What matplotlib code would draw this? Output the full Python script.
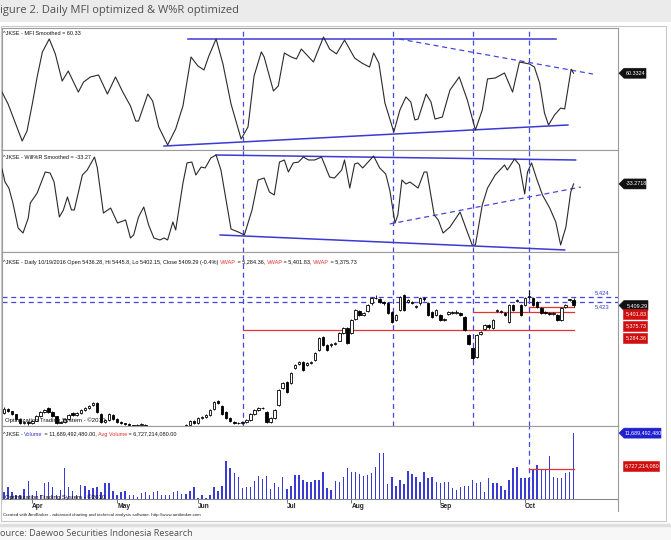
import matplotlib
matplotlib.use("Agg")
import matplotlib.pyplot as plt
from matplotlib.patches import Polygon, Rectangle
from matplotlib.lines import Line2D
from matplotlib.transforms import blended_transform_factory
import numpy as np

# ---------------- data ----------------
month_labels = ["Apr", "May", "Jun", "Jul", "Aug", "Sep", "Oct"]
month_days = [7, 28, 48, 70, 86, 108, 129]
marker_days = [59.2, 96.3, 116.1, 130]

mfi_day = [-0.5, 1.0, 2.7, 4.5, 5.7, 7.0, 8.2, 9.5, 11.2, 12.7, 14.4, 15.9, 18.4, 19.7, 21.4, 23.4,
           25.6, 27.6, 29.4, 31.3, 32.6, 33.3, 35.6, 36.8, 38.3, 40.5, 42.5, 44.3, 46.3, 48.0, 49.5,
           50.7, 52.5, 54.2, 56.2, 58.7, 60.4, 61.9, 63.7, 64.4, 66.7, 67.9, 69.4, 71.1, 72.4, 73.6,
           76.6, 79.1, 80.6, 82.3, 83.6, 84.3, 86.8, 88.6, 90.5, 91.5, 92.8, 94.3, 96.5, 98.0, 99.5,
           100.7, 101.7, 102.5, 104.5, 105.7, 106.7, 108.5, 110.4, 112.7, 114.7, 116.7, 118.4, 119.7,
           121.6, 123.9, 125.9, 127.6, 130.1, 131.3, 132.6, 133.8, 134.8, 136.3, 137.8, 138.8, 140.4, 141]
mfi_val = [48.0, 40.2, 28.4, 15.9, 22.5, 40.2, 57.9, 74.3, 82.8, 73.0, 55.2, 61.8, 48.0, 54.6, 57.9,
           59.2, 46.7, 57.9, 48.0, 38.9, 29.0, 29.0, 46.7, 42.1, 25.1, 13.3, 23.8, 38.9, 71.0, 65.1,
           62.5, 71.6, 82.8, 66.4, 40.2, 17.2, 25.1, 58.5, 74.3, 71.0, 48.7, 52.0, 73.6, 71.0, 69.7,
           76.2, 67.7, 84.1, 76.2, 73.0, 78.9, 82.1, 70.3, 67.0, 64.4, 73.6, 67.0, 40.8, 21.8, 36.2,
           44.8, 41.5, 29.7, 30.3, 46.7, 41.5, 30.3, 31.6, 49.3, 57.9, 42.8, 23.1, 36.2, 56.6, 57.2,
           60.5, 48.0, 67.7, 66.4, 64.4, 53.9, 34.3, 26.4, 33.0, 37.5, 36.9, 63.0, 60.33]
mfi_top = ([45.5, 136.6], [82.5, 82.5])
mfi_bottom = ([39.6, 139.6], [12.6, 26.4])
mfi_dashed = ([97.8, 145.8], [82.8, 59.8])

wr_day = [-0.5, 0.25, 1.2, 2.2, 3.5, 4.7, 6.0, 6.5, 8.2, 10.2, 11.4, 12.4, 13.7, 14.7, 15.7, 16.7, 17.4,
          19.4, 20.6, 22.4, 23.1, 24.6, 26.4, 28.1, 30.1, 31.3, 32.1, 33.3, 34.6, 35.8, 37.1, 38.6,
          39.6, 40.5, 41.8, 42.5, 44.3, 45.3, 46.5, 47.5, 48.8, 49.8, 51.2, 52.5, 53.7, 56.2, 58.0,
          59.5, 61.4, 62.9, 64.4, 65.7, 66.9, 68.2, 69.4, 70.4, 71.6, 72.9, 74.1, 75.4, 76.9, 78.6,
          80.6, 81.8, 83.6, 84.3, 85.6, 86.8, 87.6, 88.8, 91.5, 93.0, 94.5, 95.5, 96.8, 97.5, 98.5,
          99.5, 100.5, 102.5, 104.0, 104.7, 106.5, 107.5, 108.7, 110.4, 112.9, 114.7, 115.9, 116.7,
          118.4, 119.7, 121.6, 123.9, 124.6, 126.4, 127.6, 128.9, 129.6, 130.6, 131.8, 133.3, 135.1,
          136.6, 137.8, 139.1, 140.3, 141]
wr_val = [-18.6, -31.4, -37.3, -52.0, -76.5, -81.4, -66.7, -52.0, -42.2, -21.6, -22.5, -31.4, -65.7,
          -58.8, -46.1, -58.8, -58.8, -24.5, -19.6, -6.9, -17.6, -61.8, -56.9, -71.6, -68.6, -86.3,
          -83.3, -65.7, -55.9, -73.5, -86.3, -88.2, -86.3, -88.2, -70.6, -78.4, -32.4, -12.7, -11.8,
          -24.5, -16.7, -17.6, -7.8, -4.9, -19.6, -77.5, -80.4, -83.3, -58.8, -29.4, -27.5, -41.2,
          -44.1, -11.8, -9.8, -21.6, -12.7, -11.8, -6.9, -9.8, -9.8, -6.9, -26.5, -27.5, -19.6, -9.8,
          -37.3, -13.7, -12.7, -17.6, -5.9, -17.6, -23.5, -39.2, -71.6, -63.7, -29.4, -33.3, -31.4,
          -37.3, -21.6, -21.6, -63.7, -68.6, -81.4, -75.5, -60.8, -80.4, -93.1, -93.1, -53.9, -37.3,
          -24.5, -14.7, -19.6, -8.8, -14.7, -43.1, -21.6, -12.7, -27.5, -44.1, -56.9, -70.6, -93.1,
          -75.5, -41.2, -33.27]
wr_top = ([52.5, 141.5], [-4.9, -9.8])
wr_bottom = ([53.5, 138.8], [-83.3, -98.0])
wr_dashed = ([95.5, 142.8], [-72.5, -36.3])

price_open = [4861, 4880, 4870, 4855, 4830, 4812, 4815, 4808, 4822, 4846,
              4866, 4885, 4866, 4845, 4812, 4815, 4830, 4860, 4852, 4861,
              4876, 4887, 4900, 4912, 4856, 4815, 4825, 4852, 4830, 4815,
              4810, 4805, 4800, 4795, 4800, 4800, 4780, 4765, 4750, 4740,
              4755, 4745, 4760, 4770, 4785, 4790, 4798, 4820, 4810, 4835,
              4841, 4851, 4880, 4922, 4897, 4866, 4835, 4815, 4810, 4810,
              4815, 4825, 4856, 4876, 4885, 4866, 4815, 4835, 4902, 4990,
              5019, 5014, 5090, 5110, 5121, 5105, 5116, 5131, 5182, 5248,
              5208, 5208, 5213, 5230, 5270, 5294, 5269, 5340, 5380, 5360,
              5380, 5420, 5447, 5440, 5427, 5422, 5376, 5335, 5386, 5463,
              5427, 5427, 5401, 5420, 5447, 5422, 5376, 5360, 5360, 5335,
              5365, 5371, 5371, 5371, 5350, 5259, 5192, 5146, 5265, 5290,
              5310, 5294, 5380, 5376, 5371, 5325, 5412, 5432, 5412, 5412,
              5452, 5447, 5427, 5396, 5376, 5371, 5368, 5360, 5335, 5401,
              5437, 5436.28]
price_close = [4882, 4871, 4856, 4830, 4812, 4815, 4808, 4822, 4846, 4866,
               4878, 4866, 4845, 4812, 4815, 4830, 4850, 4850, 4861, 4876,
               4887, 4897, 4912, 4866, 4815, 4825, 4856, 4830, 4815, 4810,
               4805, 4800, 4795, 4800, 4805, 4780, 4765, 4750, 4740, 4755,
               4745, 4760, 4770, 4785, 4790, 4800, 4820, 4810, 4835, 4841,
               4851, 4876, 4917, 4912, 4856, 4835, 4820, 4810, 4812, 4815,
               4825, 4856, 4876, 4887, 4887, 4815, 4835, 4876, 4978, 5014,
               4968, 5065, 5106, 5121, 5080, 5116, 5121, 5167, 5243, 5208,
               5182, 5213, 5218, 5269, 5294, 5218, 5335, 5386, 5360, 5371,
               5412, 5447, 5450, 5427, 5420, 5371, 5325, 5360, 5452, 5386,
               5437, 5422, 5405, 5447, 5440, 5360, 5350, 5386, 5335, 5340,
               5376, 5376, 5378, 5360, 5284, 5213, 5141, 5259, 5274, 5310,
               5300, 5335, 5386, 5380, 5360, 5412, 5386, 5437, 5360, 5447,
               5460, 5412, 5401, 5371, 5371, 5368, 5371, 5335, 5396, 5412,
               5440, 5409.29]
price_high = [4892, 4886, 4874, 4858, 4834, 4822, 4820, 4826, 4850, 4872,
              4884, 4892, 4870, 4848, 4820, 4834, 4856, 4864, 4866, 4880,
              4892, 4902, 4918, 4916, 4860, 4830, 4862, 4856, 4834, 4818,
              4812, 4808, 4802, 4804, 4810, 4804, 4784, 4768, 4754, 4760,
              4758, 4764, 4774, 4790, 4796, 4804, 4826, 4824, 4840, 4846,
              4856, 4880, 4922, 4930, 4900, 4870, 4840, 4820, 4816, 4820,
              4830, 4860, 4880, 4892, 4894, 4870, 4840, 4880, 4982, 5020,
              5024, 5070, 5112, 5128, 5126, 5120, 5126, 5172, 5248, 5254,
              5212, 5218, 5224, 5272, 5300, 5298, 5340, 5392, 5386, 5376,
              5416, 5452, 5462, 5446, 5432, 5426, 5380, 5364, 5456, 5468,
              5442, 5432, 5410, 5452, 5452, 5426, 5380, 5392, 5364, 5346,
              5380, 5382, 5384, 5376, 5354, 5264, 5196, 5264, 5280, 5316,
              5314, 5340, 5392, 5386, 5376, 5416, 5416, 5442, 5418, 5452,
              5488, 5452, 5430, 5400, 5380, 5376, 5376, 5364, 5400, 5418,
              5444, 5445.8]
price_low = [4856, 4866, 4850, 4826, 4806, 4806, 4802, 4804, 4818, 4842,
             4860, 4862, 4840, 4806, 4808, 4810, 4826, 4846, 4848, 4856,
             4872, 4882, 4896, 4862, 4810, 4810, 4820, 4826, 4810, 4804,
             4800, 4796, 4790, 4790, 4796, 4776, 4760, 4744, 4734, 4736,
             4740, 4740, 4756, 4766, 4780, 4786, 4794, 4804, 4806, 4830,
             4836, 4846, 4876, 4906, 4850, 4830, 4814, 4804, 4804, 4806,
             4810, 4820, 4850, 4870, 4880, 4810, 4810, 4830, 4898, 4984,
             4962, 5010, 5084, 5104, 5074, 5100, 5110, 5126, 5176, 5202,
             5176, 5200, 5208, 5226, 5264, 5212, 5264, 5334, 5354, 5354,
             5374, 5414, 5440, 5420, 5414, 5366, 5320, 5330, 5380, 5380,
             5420, 5418, 5396, 5414, 5434, 5354, 5344, 5354, 5330, 5330,
             5360, 5366, 5366, 5354, 5278, 5208, 5130, 5140, 5258, 5284,
             5292, 5288, 5374, 5370, 5354, 5320, 5380, 5426, 5354, 5406,
             5444, 5406, 5396, 5366, 5364, 5362, 5362, 5330, 5330, 5396,
             5430, 5402.15]
resist_levels = [5452, 5427]
resist_labels = ["5,424", "5,423"]
vwap_start = [59.2, 116.1, 130]
vwap_vals = [5284.36, 5375.73, 5401.83]

volume_bn = [3.57, 4.26, 3.57, 3.15, 3.15, 3.98, 5.08, 3.15, 3.70, 3.15,
             4.81, 4.95, 4.26, 3.15, 3.84, 6.88, 4.26, 3.70, 3.15, 4.53,
             4.39, 3.84, 4.12, 4.26, 3.57, 4.81, 4.81, 3.70, 3.15, 3.57,
             3.70, 3.15, 3.15, 2.88, 3.43, 3.57, 3.15, 3.57, 3.70, 3.15,
             3.15, 3.15, 3.57, 3.70, 3.29, 3.29, 3.70, 4.26, 2.74, 3.15,
             2.74, 3.15, 4.26, 3.70, 4.39, 7.84, 6.88, 6.19, 5.64, 4.12,
             4.26, 4.26, 5.08, 5.77, 5.36, 5.77, 3.98, 4.81, 4.26, 5.64,
             3.98, 4.39, 5.91, 5.91, 5.22, 4.95, 4.95, 5.22, 5.22, 6.33,
             4.12, 3.84, 5.08, 4.95, 5.64, 6.88, 6.33, 6.33, 6.05, 5.77,
             5.91, 6.19, 7.02, 8.95, 8.95, 4.67, 5.64, 4.39, 5.22, 4.67,
             6.46, 6.05, 5.64, 4.95, 6.33, 5.50, 5.64, 4.95, 4.81, 4.95,
             4.95, 4.12, 3.84, 4.26, 4.39, 4.39, 5.22, 4.81, 4.95, 3.57,
             5.50, 4.81, 4.81, 4.39, 3.84, 5.22, 6.88, 7.02, 5.50, 5.50,
             5.50, 6.74, 7.29, 6.60, 6.74, 8.53, 5.64, 5.50, 5.50, 6.19,
             6.33, 11.68949248]
avg_volume_bn = 6.72721408
avg_volume_start = 130

# ---------------- figure ----------------
W, H = 671, 540
fig = plt.figure(figsize=(W / 100, H / 100), dpi=100)
fig.patch.set_facecolor("white")
NARROW = ["Liberation Sans Narrow", "Liberation Sans", "DejaVu Sans"]
BLUE = "#3a3ad4"
DBLUE = "#4646e0"
RED = "#e63232"
GRID = "#9c9c9c"


def fx(x):
    return x / W


def fy(y):
    return 1 - y / H


def fig_line(x0, y0, x1, y1, **kw):
    fig.add_artist(Line2D([fx(x0), fx(x1)], [fy(y0), fy(y1)], transform=fig.transFigure, **kw))


# page decorations
fig.add_artist(Rectangle((0, fy(22)), 1, 1 - fy(22), transform=fig.transFigure,
                         facecolor="#ebebeb", edgecolor="none", zorder=-5))
fig.add_artist(Rectangle((0, 0), 1, fy(525), transform=fig.transFigure,
                         facecolor="#f7f7f7", edgecolor="none", zorder=-5))
fig_line(0, 525, W, 525, color="#dedede", lw=2.5)
fig.add_artist(Rectangle((fx(1), fy(521)), fx(666) - fx(1), fy(26) - fy(521),
                         transform=fig.transFigure, facecolor="white", edgecolor="#c8c8c8",
                         lw=0.8, zorder=-4))
fig.text(fx(0), fy(11), "igure 2. Daily MFI optimized & W%R optimized", fontsize=8,
         family=["Open Sans", "DejaVu Sans"], color="#505050", va="center", ha="left")
fig.text(fx(0), fy(534), "ource: Daewoo Securities Indonesia Research", fontsize=6.6,
         family=["Open Sans", "DejaVu Sans"], color="#505050", va="center", ha="left")


def add_ax(y0, y1):
    ax = fig.add_axes([fx(2), fy(y1), fx(618) - fx(2), (y1 - y0) / H])
    ax.set_xlim(-0.5, 152)
    ax.set_xticks([])
    ax.set_yticks([])
    ax.set_facecolor("white")
    for s in ax.spines.values():
        s.set_color(GRID)
        s.set_linewidth(0.8)
    return ax


ax1 = add_ax(28, 150)
ax2 = add_ax(150, 252)
ax3 = add_ax(252, 426)
ax4 = add_ax(426, 499)

ax1.set_ylim(10, 90)
ax2.set_ylim(-100, 0)
ax3.set_ylim(4795, 5682)
ax4.set_ylim(2.6, 12.67)

vdash = dict(color=DBLUE, lw=0.9, ls=(0, (4, 3)))
for ax in (ax1, ax2, ax3):
    for d in marker_days:
        ax.axvline(d, **vdash, zorder=1)
ax4.axvline(marker_days[-1], **vdash, zorder=1)

# MFI
ax1.plot(mfi_day, mfi_val, color="#2a2a2a", lw=0.8, zorder=3)
ax1.plot(*mfi_top, color=BLUE, lw=1.1, zorder=2)
ax1.plot(*mfi_bottom, color=BLUE, lw=1.1, zorder=2)
ax1.plot(*mfi_dashed, color=DBLUE, lw=0.9, ls=(0, (4, 3)), zorder=2)

# Williams %R
ax2.plot(wr_day, wr_val, color="#2a2a2a", lw=0.8, zorder=3)
ax2.plot(*wr_top, color=BLUE, lw=1.1, zorder=2)
ax2.plot(*wr_bottom, color=BLUE, lw=1.1, zorder=2)
ax2.plot(*wr_dashed, color=DBLUE, lw=0.9, ls=(0, (4, 3)), zorder=2)

# candles
o = np.array(price_open)
c = np.array(price_close)
hi = np.array(price_high)
lo = np.array(price_low)
days = np.arange(len(o))
up = c >= o
blo = np.minimum(o, c)
bh = np.maximum(np.abs(c - o), 2.0)
ax3.vlines(days, lo, hi, color="black", lw=0.6, zorder=3)
ax3.bar(days[up], bh[up], bottom=blo[up], width=0.62, facecolor="white",
        edgecolor="black", linewidth=0.6, zorder=4)
ax3.bar(days[~up], bh[~up], bottom=blo[~up], width=0.62, facecolor="black",
        edgecolor="black", linewidth=0.6, zorder=4)
for lev in resist_levels:
    ax3.axhline(lev, color=DBLUE, lw=0.9, ls=(0, (4, 3)), zorder=1)
for d0, v in zip(vwap_start, vwap_vals):
    ax3.plot([d0, days[-1]], [v, v], color=RED, lw=0.9, zorder=2)
ax3.text(146.2, resist_levels[0] + 22, resist_labels[0], color=BLUE, fontsize=4.2,
         family=NARROW, ha="left", va="center")
ax3.text(146.2, resist_levels[1] - 22, resist_labels[1], color=BLUE, fontsize=4.2,
         family=NARROW, ha="left", va="center")

# volume
vol = np.array(volume_bn)
ax4.bar(days, vol - 2.6, bottom=2.6, width=0.36, color=BLUE, zorder=3)
ax4.plot([avg_volume_start, days[-1]], [avg_volume_bn, avg_volume_bn], color=RED, lw=0.9, zorder=4)
ax4.set_xticks(month_days)
ax4.tick_params(axis="x", length=3, width=0.7, color="#777777", labelbottom=False, direction="out")
ax4.spines["bottom"].set_color("#8a8a8a")
trans = blended_transform_factory(ax4.transData, fig.transFigure)
for d, m in zip(month_days, month_labels):
    ax4.text(d, fy(506), m, transform=trans, fontsize=4.8, fontweight="bold", family=NARROW,
             ha="left", va="center", color="#222222")
fig_line(618, 499, 618, 511, color=GRID, lw=0.8)

fig.text(fx(3), fy(515), "Created with AmiBroker - advanced charting and technical analysis software. "
         "http://www.amibroker.com", fontsize=3.2, family=NARROW, va="center", color="#222222")

# panel titles
renderer = fig.canvas.get_renderer()


def seg_text(x, y, parts, size=3.95):
    xp = x
    for s, col in parts:
        t = fig.text(fx(xp), fy(y + 1.6), s, color=col, fontsize=size, family=NARROW,
                     va="baseline", ha="left")
        xp += t.get_window_extent(renderer=renderer).width


K = "#111111"
seg_text(3, 33, [("^JKSE - MFI Smoothed = 60.33", K)])
seg_text(3, 157, [("^JKSE - Will%R Smoothed = -33.27", K)])
seg_text(3, 262, [("^JKSE - Daily 10/19/2016 Open 5436.28, Hi 5445.8, Lo 5402.15, Close 5409.29 (-0.4%) ", K),
                  ("VWAP", RED), (" = 5,284.36, ", K), ("VWAP", RED), (" = 5,401.83, ", K),
                  ("VWAP", RED), (" = 5,375.73", K)])
seg_text(3, 434, [("^JKSE - ", K), ("Volume", BLUE), (" = 11,689,492,480.00, ", K),
                  ("Avg Volume", RED), (" = 6,727,214,080.00", K)])
for yy in (420, 497):
    fig.text(fx(5), fy(yy), "Optimization Trading System - \u00a92010", fontsize=4.3,
             family=NARROW, va="center", color="#111111")


# right side value tags
def value_y(ax, v):
    return H - ax.transData.transform((0, v))[1]


def tag(y, x0, x1, text, fc, pointer=True):
    h = 5
    if pointer:
        pts = [(619, y), (x0, y - h), (x1, y - h), (x1, y + h), (x0, y + h)]
    else:
        pts = [(x0, y - h), (x1, y - h), (x1, y + h), (x0, y + h)]
    fig.add_artist(Polygon([(fx(a), fy(b)) for a, b in pts], closed=True,
                           transform=fig.transFigure, facecolor=fc, edgecolor=fc, lw=0.4))
    fig.text(fx((x0 + x1) / 2 + 1), fy(y), text, color="white", fontsize=3.9, family=NARROW,
             ha="center", va="center")


tag(value_y(ax1, mfi_val[-1]), 624, 646, "60.3324", "#111111")
tag(value_y(ax2, wr_val[-1]), 624, 646, "-33.2718", "#111111")
tag(value_y(ax3, price_close[-1]), 624, 648, "5,409.29", "#111111")
tag(314, 623, 647, "5,401.83", "#d01010", pointer=False)
tag(326, 623, 647, "5,375.73", "#d01010", pointer=False)
tag(338, 623, 647, "5,284.36", "#d01010", pointer=False)
tag(value_y(ax4, volume_bn[-1]), 624, 661, "11,689,492,480", "#2020d0")
tag(466, 623, 659, "6,727,214,080", "#d01010", pointer=False)

fig.savefig("out.png", dpi=100, facecolor=fig.get_facecolor())
